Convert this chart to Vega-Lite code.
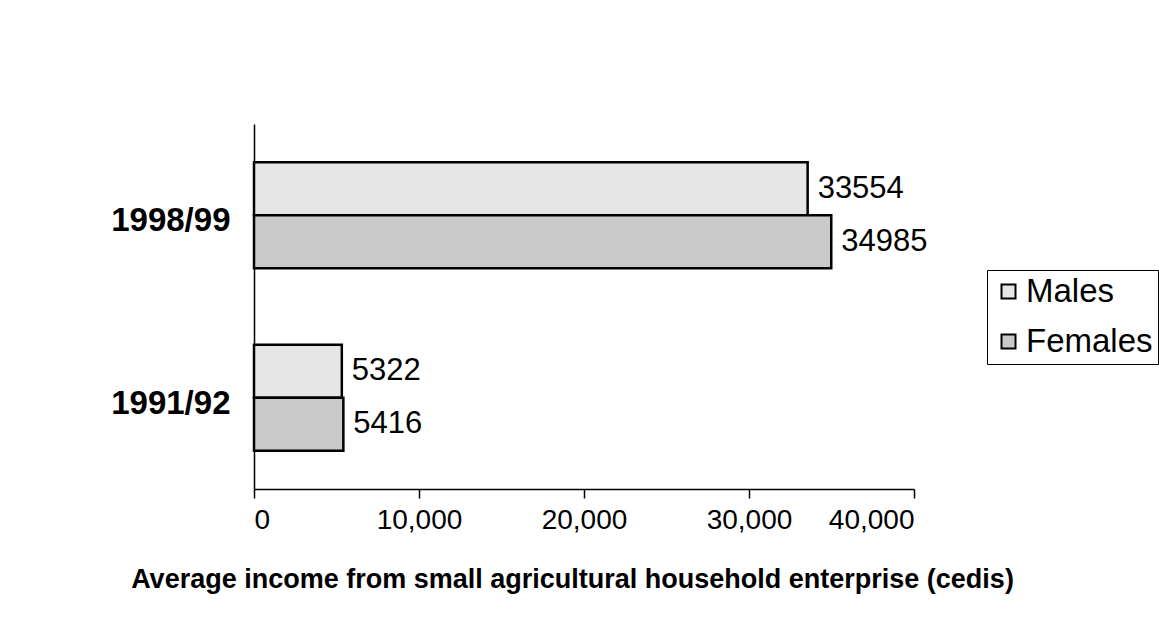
{
  "$schema": "https://vega.github.io/schema/vega-lite/v6.json",
  "autosize": {"type": "none"},
  "width": 660,
  "height": 365,
  "padding": {"left": 254, "top": 124, "right": 245, "bottom": 139},
  "background": "white",
  "config": {
    "font": "Liberation Sans",
    "view": {"stroke": null}
  },
  "data": {
    "values": [
      {"year": "1998/99", "sex": "Males", "income": 33554},
      {"year": "1998/99", "sex": "Females", "income": 34985},
      {"year": "1991/92", "sex": "Males", "income": 5322},
      {"year": "1991/92", "sex": "Females", "income": 5416}
    ]
  },
  "encoding": {
    "y": {
      "field": "year",
      "type": "nominal",
      "sort": ["1998/99", "1991/92"],
      "scale": {"paddingInner": 0.42, "paddingOuter": 0.21},
      "axis": {
        "title": null,
        "ticks": false,
        "domainColor": "black",
        "domainWidth": 1.5,
        "labelFontSize": 33,
        "labelFontWeight": "bold",
        "labelColor": "black",
        "labelPadding": 24,
        "labelOffset": 6
      }
    },
    "yOffset": {"field": "sex", "sort": ["Males", "Females"]},
    "x": {
      "field": "income",
      "type": "quantitative",
      "scale": {"domain": [0, 40000], "nice": false},
      "axis": {
        "title": "Average income from small agricultural household enterprise (cedis)",
        "titleFontSize": 27,
        "titleFontWeight": "bold",
        "titleColor": "black",
        "titlePadding": 32,
        "titleX": 318,
        "titleAlign": "center",
        "values": [0, 10000, 20000, 30000, 40000],
        "format": ",d",
        "grid": false,
        "domainColor": "black",
        "domainWidth": 1.5,
        "tickColor": "black",
        "tickWidth": 1.5,
        "tickSize": 9,
        "labelFontSize": 28,
        "labelColor": "black",
        "labelPadding": 8
      }
    }
  },
  "layer": [
    {
      "mark": {"type": "bar", "stroke": "black", "strokeWidth": 2.5},
      "encoding": {
        "color": {
          "field": "sex",
          "type": "nominal",
          "sort": ["Males", "Females"],
          "scale": {"domain": ["Males", "Females"], "range": ["#e6e6e6", "#c9c9c9"]},
          "legend": {
            "title": null,
            "orient": "none",
            "legendX": 733,
            "legendY": 146,
            "strokeColor": "black",
            "padding": 5,
            "symbolType": "square",
            "symbolSize": 196,
            "symbolStrokeColor": "black",
            "symbolStrokeWidth": 2,
            "labelFontSize": 33,
            "labelColor": "black",
            "labelOffset": 1,
            "rowPadding": 16,
            "symbolOpacity": 1,
            "offset": 0
          }
        }
      }
    },
    {
      "mark": {"type": "text", "align": "left", "baseline": "middle", "dx": 10, "fontSize": 31, "color": "black"},
      "encoding": {
        "text": {"field": "income", "type": "quantitative", "format": "d"}
      }
    }
  ]
}
